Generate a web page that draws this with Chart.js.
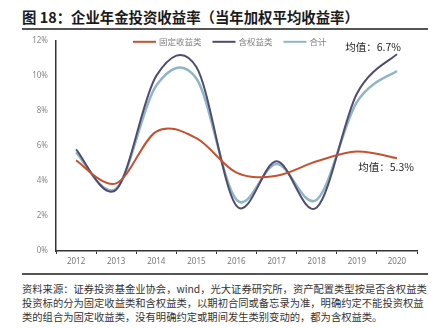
<!DOCTYPE html>
<html>
<head>
<meta charset="utf-8">
<script src="https://cdn.jsdelivr.net/npm/chart.js@4/dist/chart.umd.min.js"></script>
<style>
  html, body { margin: 0; padding: 0; background: #fff; }
  body { width: 441px; height: 328px; position: relative; overflow: hidden;
         font-family: "Noto Sans CJK SC", "Noto Sans", sans-serif; }
  #title { position: absolute; left: 22px; top: 7px; font-size: 14.4px; font-weight: bold;
           color: #1a1a1a; white-space: nowrap; line-height: 20px; }
  .rule { position: absolute; left: 22px; width: 406px; background: #555; }
  #chartBox { position: absolute; left: 0; top: 28px; width: 441px; height: 242px; }
  #source { position: absolute; left: 22px; top: 282px; font-size: 10.3px; color: #333;
            line-height: 14px; white-space: nowrap; }
</style>
</head>
<body>
<div id="title">图 18：企业年金投资收益率（当年加权平均收益率）</div>
<div class="rule" style="top:28px;height:2px;"></div>
<div id="chartBox"><canvas id="c" width="441" height="242"></canvas></div>
<div class="rule" style="top:273px;height:1.5px;"></div>
<div id="source">
  <div>资料来源：证券投资基金业协会，wind，光大证券研究所，资产配置类型按是否含权益类</div>
  <div>投资标的分为固定收益类和含权益类，以期初合同或备忘录为准，明确约定不能投资权益</div>
  <div>类的组合为固定收益类，没有明确约定或期间发生类别变动的，都为含权益类。</div>
</div>
<script>
// Years and annual weighted-average returns (%)
const years = ['2012', '2013', '2014', '2015', '2016', '2017', '2018', '2019', '2020'];
const fixedIncome = [5.17, 3.86, 6.82, 6.44, 4.47, 4.30, 5.12, 5.68, 5.30];
const withEquity = [5.80, 3.50, 10.00, 10.50, 2.58, 5.12, 2.48, 8.98, 11.24];
const overall = [5.63, 3.56, 9.45, 9.85, 2.92, 4.97, 2.93, 8.50, 10.28];
const yTicks = [0, 2, 4, 6, 8, 10, 12];
// Average labels placed next to the last point of a series
const avgNotes = [
  { text: '均值：6.7%', series: 1, dx: 4, dy: -7, align: 'right' },
  { text: '均值：5.3%', series: 0, dx: 17, dy: 9, align: 'right' }
];

const colors = ['#c4512f', '#4f4c70', '#8fb5c8'];

// Uniform Catmull-Rom smoothing: each point's bezier handles are one sixth of the
// vector between its neighbours, applied after Chart.js has placed the points.
const uniformSmooth = {
  id: 'uniformSmooth',
  beforeDatasetDraw(chart, args) {
    const meta = args.meta;
    meta.dataset.updateControlPoints(chart.chartArea);
    const pts = meta.data, n = pts.length;
    for (let i = 0; i < n; i++) {
      const p = pts[i], prev = pts[Math.max(i - 1, 0)], next = pts[Math.min(i + 1, n - 1)];
      const dx = (next.x - prev.x) / 6, dy = (next.y - prev.y) / 6;
      p.cp1x = p.x - dx; p.cp1y = p.y - dy;
      p.cp2x = p.x + dx; p.cp2y = p.y + dy;
    }
  }
};

const avgPlugin = {
  id: 'avgNotes',
  afterDatasetsDraw(chart) {
    const ctx = chart.ctx;
    const xs = chart.scales.x, ys = chart.scales.y;
    ctx.save();
    ctx.font = '10.5px "Noto Sans CJK SC", sans-serif';
    ctx.fillStyle = '#222';
    ctx.textBaseline = 'middle';
    avgNotes.forEach(n => {
      const vals = chart.data.datasets[n.series].data;
      const i = vals.length - 1;
      ctx.textAlign = n.align;
      ctx.fillText(n.text, xs.getPixelForValue(i) + n.dx, ys.getPixelForValue(vals[i]) + n.dy);
    });
    ctx.restore();
  }
};

// Horizontal legend inside the top of the plot area: a short line then the series name
const lineLegend = {
  id: 'lineLegend',
  afterDraw(chart) {
    const ctx = chart.ctx, area = chart.chartArea;
    ctx.save();
    ctx.font = '8.5px "Noto Sans CJK SC", sans-serif';
    ctx.textBaseline = 'middle';
    ctx.textAlign = 'left';
    let x = area.left + 77;
    const y = area.top + 1;
    chart.data.datasets.forEach(ds => {
      ctx.strokeStyle = ds.borderColor;
      ctx.lineWidth = 2;
      ctx.beginPath();
      ctx.moveTo(x, y);
      ctx.lineTo(x + 23, y);
      ctx.stroke();
      x += 26;
      ctx.fillStyle = '#808080';
      ctx.fillText(ds.label, x, y);
      x += ctx.measureText(ds.label).width + 11;
    });
    ctx.restore();
  }
};

new Chart(document.getElementById('c'), {
  type: 'line',
  data: {
    labels: years,
    datasets: [
      { label: '固定收益类', data: fixedIncome, borderColor: colors[0], backgroundColor: colors[0], borderWidth: 2 },
      { label: '含权益类', data: withEquity, borderColor: colors[1], backgroundColor: colors[1], borderWidth: 2 },
      { label: '合计', data: overall, borderColor: colors[2], backgroundColor: colors[2], borderWidth: 2.5 }
    ]
  },
  options: {
    responsive: false,
    animation: false,
    layout: { padding: { left: 0, right: 24, top: 6, bottom: 0 } },
    elements: { point: { radius: 0 }, line: { tension: 0.4, fill: false } },
    plugins: {
      tooltip: { enabled: false },
      legend: { display: false }
    },
    scales: {
      x: {
        offset: true,
        grid: { display: true, drawOnChartArea: false, drawTicks: true, tickLength: 3, offset: true, color: '#333' },
        border: { color: '#333', width: 1.5 },
        ticks: { color: '#777', padding: 3, font: { size: 8, family: '"Noto Sans", sans-serif' } },
        afterFit(s) { s.height = 19; }
      },
      y: {
        min: 0, max: 12,
        grid: { display: false, drawTicks: false },
        border: { color: '#333', width: 1.5 },
        afterBuildTicks(s) { s.ticks = yTicks.map(v => ({ value: v })); },
        ticks: { color: '#888', padding: 8, font: { size: 8, family: '"Noto Sans", sans-serif' },
                 callback: v => v + '%' },
        afterFit(s) { s.width = 56; }
      }
    }
  },
  plugins: [uniformSmooth, avgPlugin, lineLegend]
});
</script>
</body>
</html>
